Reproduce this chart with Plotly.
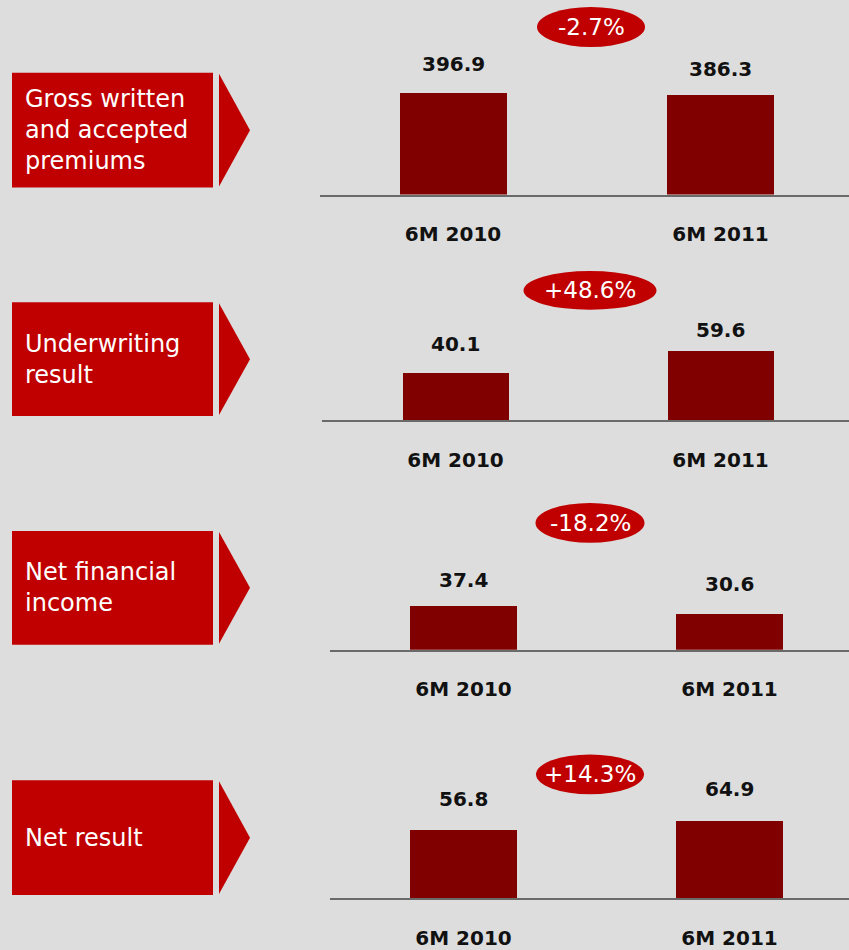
import plotly.graph_objects as go

# ---- data ----
PERIODS = ["6M 2010", "6M 2011"]
METRICS = ["Gross written<br>and accepted<br>premiums", "Underwriting<br>result",
           "Net financial<br>income", "Net result"]
GROSS_PREMIUMS = [396.9, 386.3]
UNDERWRITING = [40.1, 59.6]
NET_FINANCIAL = [37.4, 30.6]
NET_RESULT = [56.8, 64.9]
CHANGES = ["-2.7%", "+48.6%", "-18.2%", "+14.3%"]
SERIES = [GROSS_PREMIUMS, UNDERWRITING, NET_FINANCIAL, NET_RESULT]

# ---- layout config (pixels) ----
W, H = 849, 950
BG = "#DDDDDD"
RED = "#C00000"
BAR = "#800000"
FONT = "DejaVu Sans"

panels = [
    dict(b=195, L=320, c0=453, d=267.5, s=0.258, shifts=[28, 26], box=(73, 188), ell=(591, 27, 108, 40)),
    dict(b=421, L=322, c0=455.5, d=265, s=1.155, shifts=[30, 21], box=(303, 417), ell=(590, 291, 133, 39)),
    dict(b=651, L=330, c0=463.5, d=266, s=1.176, shifts=[26, 30], box=(532, 646), ell=(590, 524, 109, 40)),
    dict(b=900, L=330, c0=463.5, d=266, s=1.19, shifts=[32, 32], box=(782, 897), ell=(590, 776, 108, 40)),
]

def px(x):
    return x / W

def py(y):
    return 1 - y / H

fig = go.Figure()
shapes = []
annotations = []
layout_axes = {}
PANEL_H = 150

for i, (p, vals) in enumerate(zip(panels, SERIES)):
    n = "" if i == 0 else str(i + 1)
    xa, ya = "x" + n, "y" + n
    fig.add_trace(go.Bar(
        x=PERIODS, y=vals, xaxis=xa, yaxis=ya, width=0.40,
        marker=dict(color=BAR, line=dict(width=0)), hoverinfo="skip", showlegend=False,
    ))
    r0 = (p["L"] - p["c0"]) / p["d"]
    r1 = (W - p["c0"]) / p["d"]
    layout_axes["xaxis" + n] = dict(
        domain=[px(p["L"]), 1], range=[r0, r1], type="category", anchor=ya,
        showgrid=False, zeroline=False, showline=True, linecolor="#6a6a6a", linewidth=1.5,
        ticks="", ticklabelstandoff=21,
        tickfont=dict(family=FONT, size=20, color="#111111", weight="bold"),
        fixedrange=True,
    )
    layout_axes["yaxis" + n] = dict(
        domain=[py(p["b"]), py(p["b"] - PANEL_H)], range=[0, PANEL_H / p["s"]], anchor=xa,
        visible=False, fixedrange=True,
    )
    for cat, v, sh in zip(PERIODS, vals, p["shifts"]):
        annotations.append(dict(
            x=cat, y=v, xref=xa, yref=ya, text=f"{v:.1f}", showarrow=False,
            yanchor="middle", yshift=sh,
            font=dict(family=FONT, size=20, color="#111111", weight="bold"),
        ))
    t, btm = p["box"]
    shapes.append(dict(type="rect", xref="paper", yref="paper", x0=px(12), x1=px(213),
                       y0=py(btm), y1=py(t), fillcolor=RED, line=dict(width=0), layer="below"))
    mid = (t + btm) / 2
    shapes.append(dict(type="path", xref="paper", yref="paper",
                       path=f"M {px(219)} {py(t + 1)} L {px(250)} {py(mid)} L {px(219)} {py(btm - 1)} Z",
                       fillcolor=RED, line=dict(width=0), layer="below"))
    annotations.append(dict(
        x=px(23), y=py(mid), xref="paper", yref="paper", text=METRICS[i], showarrow=False,
        xanchor="left", yanchor="middle", align="left",
        font=dict(family=FONT, size=24, color="white"),
    ))
    cx, cy, ew, eh = p["ell"]
    shapes.append(dict(type="circle", xref="paper", yref="paper",
                       x0=px(cx - ew / 2), x1=px(cx + ew / 2), y0=py(cy + eh / 2), y1=py(cy - eh / 2),
                       fillcolor=RED, line=dict(width=0), layer="below"))
    annotations.append(dict(
        x=px(cx), y=py(cy), xref="paper", yref="paper", text=CHANGES[i], showarrow=False,
        xanchor="center", yanchor="middle", font=dict(family=FONT, size=23, color="white"),
    ))

fig.update_layout(
    width=W, height=H, margin=dict(l=0, r=0, t=0, b=0),
    paper_bgcolor=BG, plot_bgcolor="rgba(0,0,0,0)",
    shapes=shapes, annotations=annotations, bargap=0,
    **layout_axes,
)

fig.write_html("out.html", config={"displayModeBar": False},
               post_script="document.body.style.margin='0';document.body.style.overflow='hidden';")
